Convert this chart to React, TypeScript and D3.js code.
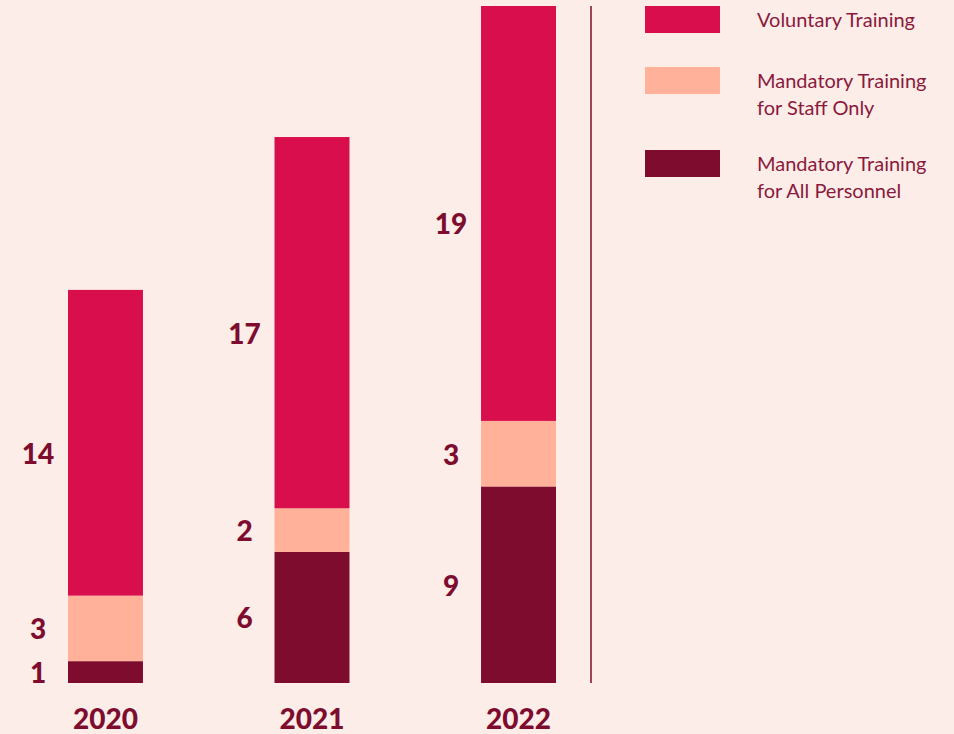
import React from "react";
import * as d3 from "d3";

const years = ["2020", "2021", "2022"];
const allPersonnel = [1, 6, 9];
const staffOnly = [3, 2, 3];
const voluntary = [14, 17, 19];
const seriesKeys = ["allPersonnel", "staffOnly", "voluntary"];
const seriesColors = ["#7d0c2e", "#ffb299", "#d80f4c"];
const legendItems = [
  { key: "voluntary", lines: ["Voluntary Training"], color: "#d80f4c" },
  { key: "staffOnly", lines: ["Mandatory Training", "for Staff Only"], color: "#ffb299" },
  { key: "allPersonnel", lines: ["Mandatory Training", "for All Personnel"], color: "#7d0c2e" },
];

const W = 954;
const H = 734;
const TEXT = "#7d0c2e";

export default function App() {
  const rows = years.map((y, i) => ({
    year: y,
    allPersonnel: allPersonnel[i],
    staffOnly: staffOnly[i],
    voluntary: voluntary[i],
  }));
  const stack = d3.stack<any>().keys(seriesKeys)(rows);
  const x = d3.scaleBand().domain(years).range([68, 556]).paddingInner(0.637).paddingOuter(0);
  const maxTotal = d3.max(rows, (r) => r.allPersonnel + r.staffOnly + r.voluntary) as number;
  const y = d3.scaleLinear().domain([0, maxTotal]).range([683, 6]);
  const bw = x.bandwidth();

  const legendY = [6, 67, 150];

  return (
    <svg
      width={W}
      height={H}
      style={{ position: "absolute", left: 0, top: 0, display: "block" }}
      fontFamily="Lato, 'Open Sans', sans-serif"
    >
      <rect x={0} y={0} width={W} height={H} fill="#fcede8" />
      {stack.map((s, si) => (
        <g key={s.key}>
          {s.map((d: any, i: number) => {
            const xx = x(years[i]) as number;
            const y0 = y(d[0]);
            const y1 = y(d[1]);
            const dy = si === 2 ? 10 : 0;
            return (
              <g key={i}>
                <rect x={xx} y={y1} width={bw} height={y0 - y1} fill={seriesColors[si]} />
                <text
                  x={xx - 30}
                  y={(y0 + y1) / 2 + dy}
                  textAnchor="middle"
                  dominantBaseline="central"
                  fontSize={28}
                  fontWeight={900}
                  fill={TEXT}
                >
                  {d[1] - d[0]}
                </text>
              </g>
            );
          })}
        </g>
      ))}
      {years.map((yr) => (
        <text
          key={yr}
          x={(x(yr) as number) + bw / 2}
          y={729}
          textAnchor="middle"
          fontSize={28}
          fontWeight={900}
          fill={TEXT}
        >
          {yr}
        </text>
      ))}
      <line x1={591} x2={591} y1={y(maxTotal)} y2={y(0)} stroke={TEXT} strokeWidth={1.5} />
      {legendItems.map((it, i) => (
        <g key={it.key}>
          <rect x={645} y={legendY[i]} width={75} height={27} fill={it.color} />
          {it.lines.map((ln, li) => (
            <text
              key={li}
              x={757}
              y={legendY[i] + 13 + li * 27}
              dominantBaseline="central"
              fontSize={20}
              fill="#8a1a3d"
            >
              {ln}
            </text>
          ))}
        </g>
      ))}
    </svg>
  );
}
